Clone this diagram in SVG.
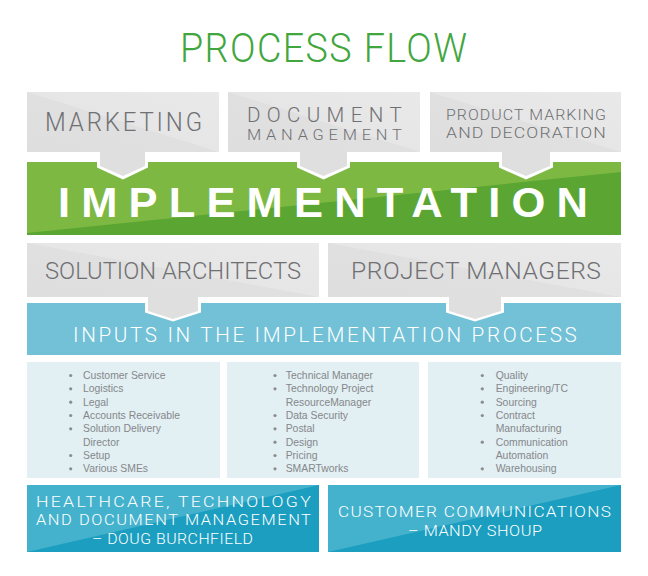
<svg xmlns="http://www.w3.org/2000/svg" width="648" height="576" viewBox="0 0 648 576">
  <defs>
    <linearGradient id="grayG" x1="0" y1="1" x2="1" y2="0">
      <stop offset="0" stop-color="#dedede"/>
      <stop offset="0.5" stop-color="#e0e0e0"/>
      <stop offset="0.5" stop-color="#e6e6e6"/>
      <stop offset="1" stop-color="#e9e9e9"/>
    </linearGradient>
    <style>
      .lbl { font-family: Roboto, "Liberation Sans", Arial, sans-serif; font-weight: 300; fill: #6f7073; }
      .wt { font-family: Roboto, "Liberation Sans", Arial, sans-serif; font-weight: 300; fill: #ffffff; }
      .bl { font-family: "Liberation Sans", Arial, sans-serif; font-size: 10.4px; fill: #85878a; }
      .gray { fill: url(#grayG); }
      .tab { fill: #dfdfdf; }
      .tabw { fill: #ffffff; }
      .light { fill: #e2eff3; }
      .dot { fill: #8a8c8e; }
    </style>
  </defs>
  <rect width="648" height="576" fill="#ffffff"/>

  <text id="title" x="180" y="62" font-family="Roboto, Liberation Sans, Arial, sans-serif" font-weight="300" font-size="40" fill="#42a63e" letter-spacing="1.5" textLength="288.5" lengthAdjust="spacingAndGlyphs">PROCESS FLOW</text>

  <g id="marketing">
    <rect class="gray" x="27" y="92" width="192" height="60"/>
    <text class="lbl" x="45" y="131" font-size="25" letter-spacing="3" textLength="160" lengthAdjust="spacingAndGlyphs">MARKETING</text>
  </g>
  <g id="document-management">
    <rect class="gray" x="228" y="92" width="192" height="60"/>
    <text class="lbl" x="247" y="122" font-size="19.5" letter-spacing="6" textLength="161" lengthAdjust="spacingAndGlyphs">DOCUMENT</text>
    <text class="lbl" x="247" y="140" font-size="15.5" letter-spacing="4.5" textLength="159.5" lengthAdjust="spacingAndGlyphs">MANAGEMENT</text>
  </g>
  <g id="product-marking">
    <rect class="gray" x="430" y="92" width="191" height="60"/>
    <text class="lbl" x="446" y="120" font-size="15.2" letter-spacing="1" textLength="161" lengthAdjust="spacingAndGlyphs">PRODUCT MARKING</text>
    <text class="lbl" x="446" y="137.5" font-size="15.2" letter-spacing="1" textLength="161" lengthAdjust="spacingAndGlyphs">AND DECORATION</text>
  </g>

  <g id="implementation">
    <rect x="27" y="162" width="594" height="73" fill="#5ba633"/>
    <polygon points="27,162 621,162 621,172 27,233" fill="#7db843"/>
    <text x="58" y="217" font-family="Liberation Sans, Arial, sans-serif" fill="#ffffff" font-size="43" font-weight="bold" letter-spacing="11" textLength="541" lengthAdjust="spacingAndGlyphs">IMPLEMENTATION</text>
  </g>

  <g id="solution-architects">
    <rect class="gray" x="27" y="243" width="292" height="54"/>
    <text class="lbl" x="45" y="279" font-size="23" textLength="256" lengthAdjust="spacingAndGlyphs">SOLUTION ARCHITECTS</text>
  </g>
  <g id="project-managers">
    <rect class="gray" x="328" y="243" width="293" height="54"/>
    <text class="lbl" x="351" y="279" font-size="23" letter-spacing="0.5" textLength="250.5" lengthAdjust="spacingAndGlyphs">PROJECT MANAGERS</text>
  </g>

  <g id="inputs">
    <rect x="27" y="303" width="594" height="52" fill="#72c1d7"/>
    <text class="wt" x="73" y="342" font-size="19.5" letter-spacing="2.5" textLength="506.5" lengthAdjust="spacingAndGlyphs">INPUTS IN THE IMPLEMENTATION PROCESS</text>
  </g>

  <g id="connectors">
    <polygon class="tabw" points="97,157 148,157 148,167.5 123,179.5 97,167.5"/>
    <polygon class="tab" points="100,150 145,150 145,166 123,176 100,166"/>
    <polygon class="tabw" points="297,157 350,157 350,167.5 323.5,179.5 297,167.5"/>
    <polygon class="tab" points="300,150 347,150 347,166 323.5,176 300,166"/>
    <polygon class="tabw" points="499,157 553,157 553,167.5 526,179.5 499,167.5"/>
    <polygon class="tab" points="502,150 550,150 550,166 526,176 502,166"/>
    <polygon class="tabw" points="145,300 201,300 201,312.5 173,321.5 145,312.5"/>
    <polygon class="tab" points="148,295 198,295 198,311 173,319 148,311"/>
    <polygon class="tabw" points="446,300 504,300 504,312.5 475,321.5 446,312.5"/>
    <polygon class="tab" points="449,295 501,295 501,311 475,319 449,311"/>
  </g>

  <g id="list-1">
    <rect class="light" x="27" y="362" width="193" height="116"/>
    <circle class="dot" cx="70.7" cy="375.5" r="1.6"/>
    <circle class="dot" cx="70.7" cy="388.8" r="1.6"/>
    <circle class="dot" cx="70.7" cy="402.2" r="1.6"/>
    <circle class="dot" cx="70.7" cy="415.5" r="1.6"/>
    <circle class="dot" cx="70.7" cy="428.8" r="1.6"/>
    <circle class="dot" cx="70.7" cy="455.5" r="1.6"/>
    <circle class="dot" cx="70.7" cy="468.8" r="1.6"/>
    <text class="bl" x="83" y="379">Customer Service</text>
    <text class="bl" x="83" y="392.3">Logistics</text>
    <text class="bl" x="83" y="405.7">Legal</text>
    <text class="bl" x="83" y="419">Accounts Receivable</text>
    <text class="bl" x="83" y="432.3">Solution Delivery</text>
    <text class="bl" x="83" y="445.7">Director</text>
    <text class="bl" x="83" y="459">Setup</text>
    <text class="bl" x="83" y="472.3">Various SMEs</text>
  </g>
  <g id="list-2">
    <rect class="light" x="227" y="362" width="192" height="116"/>
    <circle class="dot" cx="275" cy="375.5" r="1.6"/>
    <circle class="dot" cx="275" cy="388.8" r="1.6"/>
    <circle class="dot" cx="275" cy="415.5" r="1.6"/>
    <circle class="dot" cx="275" cy="428.8" r="1.6"/>
    <circle class="dot" cx="275" cy="442.2" r="1.6"/>
    <circle class="dot" cx="275" cy="455.5" r="1.6"/>
    <circle class="dot" cx="275" cy="468.8" r="1.6"/>
    <text class="bl" x="285.7" y="379">Technical Manager</text>
    <text class="bl" x="285.7" y="392.3">Technology Project</text>
    <text class="bl" x="285.7" y="405.7">ResourceManager</text>
    <text class="bl" x="285.7" y="419">Data Security</text>
    <text class="bl" x="285.7" y="432.3">Postal</text>
    <text class="bl" x="285.7" y="445.7">Design</text>
    <text class="bl" x="285.7" y="459">Pricing</text>
    <text class="bl" x="285.7" y="472.3">SMARTworks</text>
  </g>
  <g id="list-3">
    <rect class="light" x="428" y="362" width="193" height="116"/>
    <circle class="dot" cx="482.3" cy="375.5" r="1.6"/>
    <circle class="dot" cx="482.3" cy="388.8" r="1.6"/>
    <circle class="dot" cx="482.3" cy="402.2" r="1.6"/>
    <circle class="dot" cx="482.3" cy="415.5" r="1.6"/>
    <circle class="dot" cx="482.3" cy="442.2" r="1.6"/>
    <circle class="dot" cx="482.3" cy="468.8" r="1.6"/>
    <text class="bl" x="495.7" y="379">Quality</text>
    <text class="bl" x="495.7" y="392.3">Engineering/TC</text>
    <text class="bl" x="495.7" y="405.7">Sourcing</text>
    <text class="bl" x="495.7" y="419">Contract</text>
    <text class="bl" x="495.7" y="432.3">Manufacturing</text>
    <text class="bl" x="495.7" y="445.7">Communication</text>
    <text class="bl" x="495.7" y="459">Automation</text>
    <text class="bl" x="495.7" y="472.3">Warehousing</text>
  </g>

  <g id="healthcare">
    <rect x="27" y="485" width="292" height="67" fill="#1b9ec0"/>
    <polygon points="27,485 319,485 27,552" fill="#45b2cd"/>
    <text class="wt" x="36" y="507" font-size="15.5" letter-spacing="2" textLength="277" lengthAdjust="spacingAndGlyphs">HEALTHCARE, TECHNOLOGY</text>
    <text class="wt" x="36" y="525" font-size="15.5" letter-spacing="1.5" textLength="276.5" lengthAdjust="spacingAndGlyphs">AND DOCUMENT MANAGEMENT</text>
    <text class="wt" x="92" y="544" font-size="15.5" letter-spacing="0.5" textLength="161.5" lengthAdjust="spacingAndGlyphs">– DOUG BURCHFIELD</text>
  </g>
  <g id="customer-communications">
    <rect x="328" y="485" width="293" height="67" fill="#1b9ec0"/>
    <polygon points="328,485 621,485 328,552" fill="#45b2cd"/>
    <text class="wt" x="338" y="517" font-size="15.5" letter-spacing="1.2" textLength="274.2" lengthAdjust="spacingAndGlyphs">CUSTOMER COMMUNICATIONS</text>
    <text class="wt" x="408" y="536" font-size="15.5" letter-spacing="0.5" textLength="134.5" lengthAdjust="spacingAndGlyphs">– MANDY SHOUP</text>
  </g>
</svg>
